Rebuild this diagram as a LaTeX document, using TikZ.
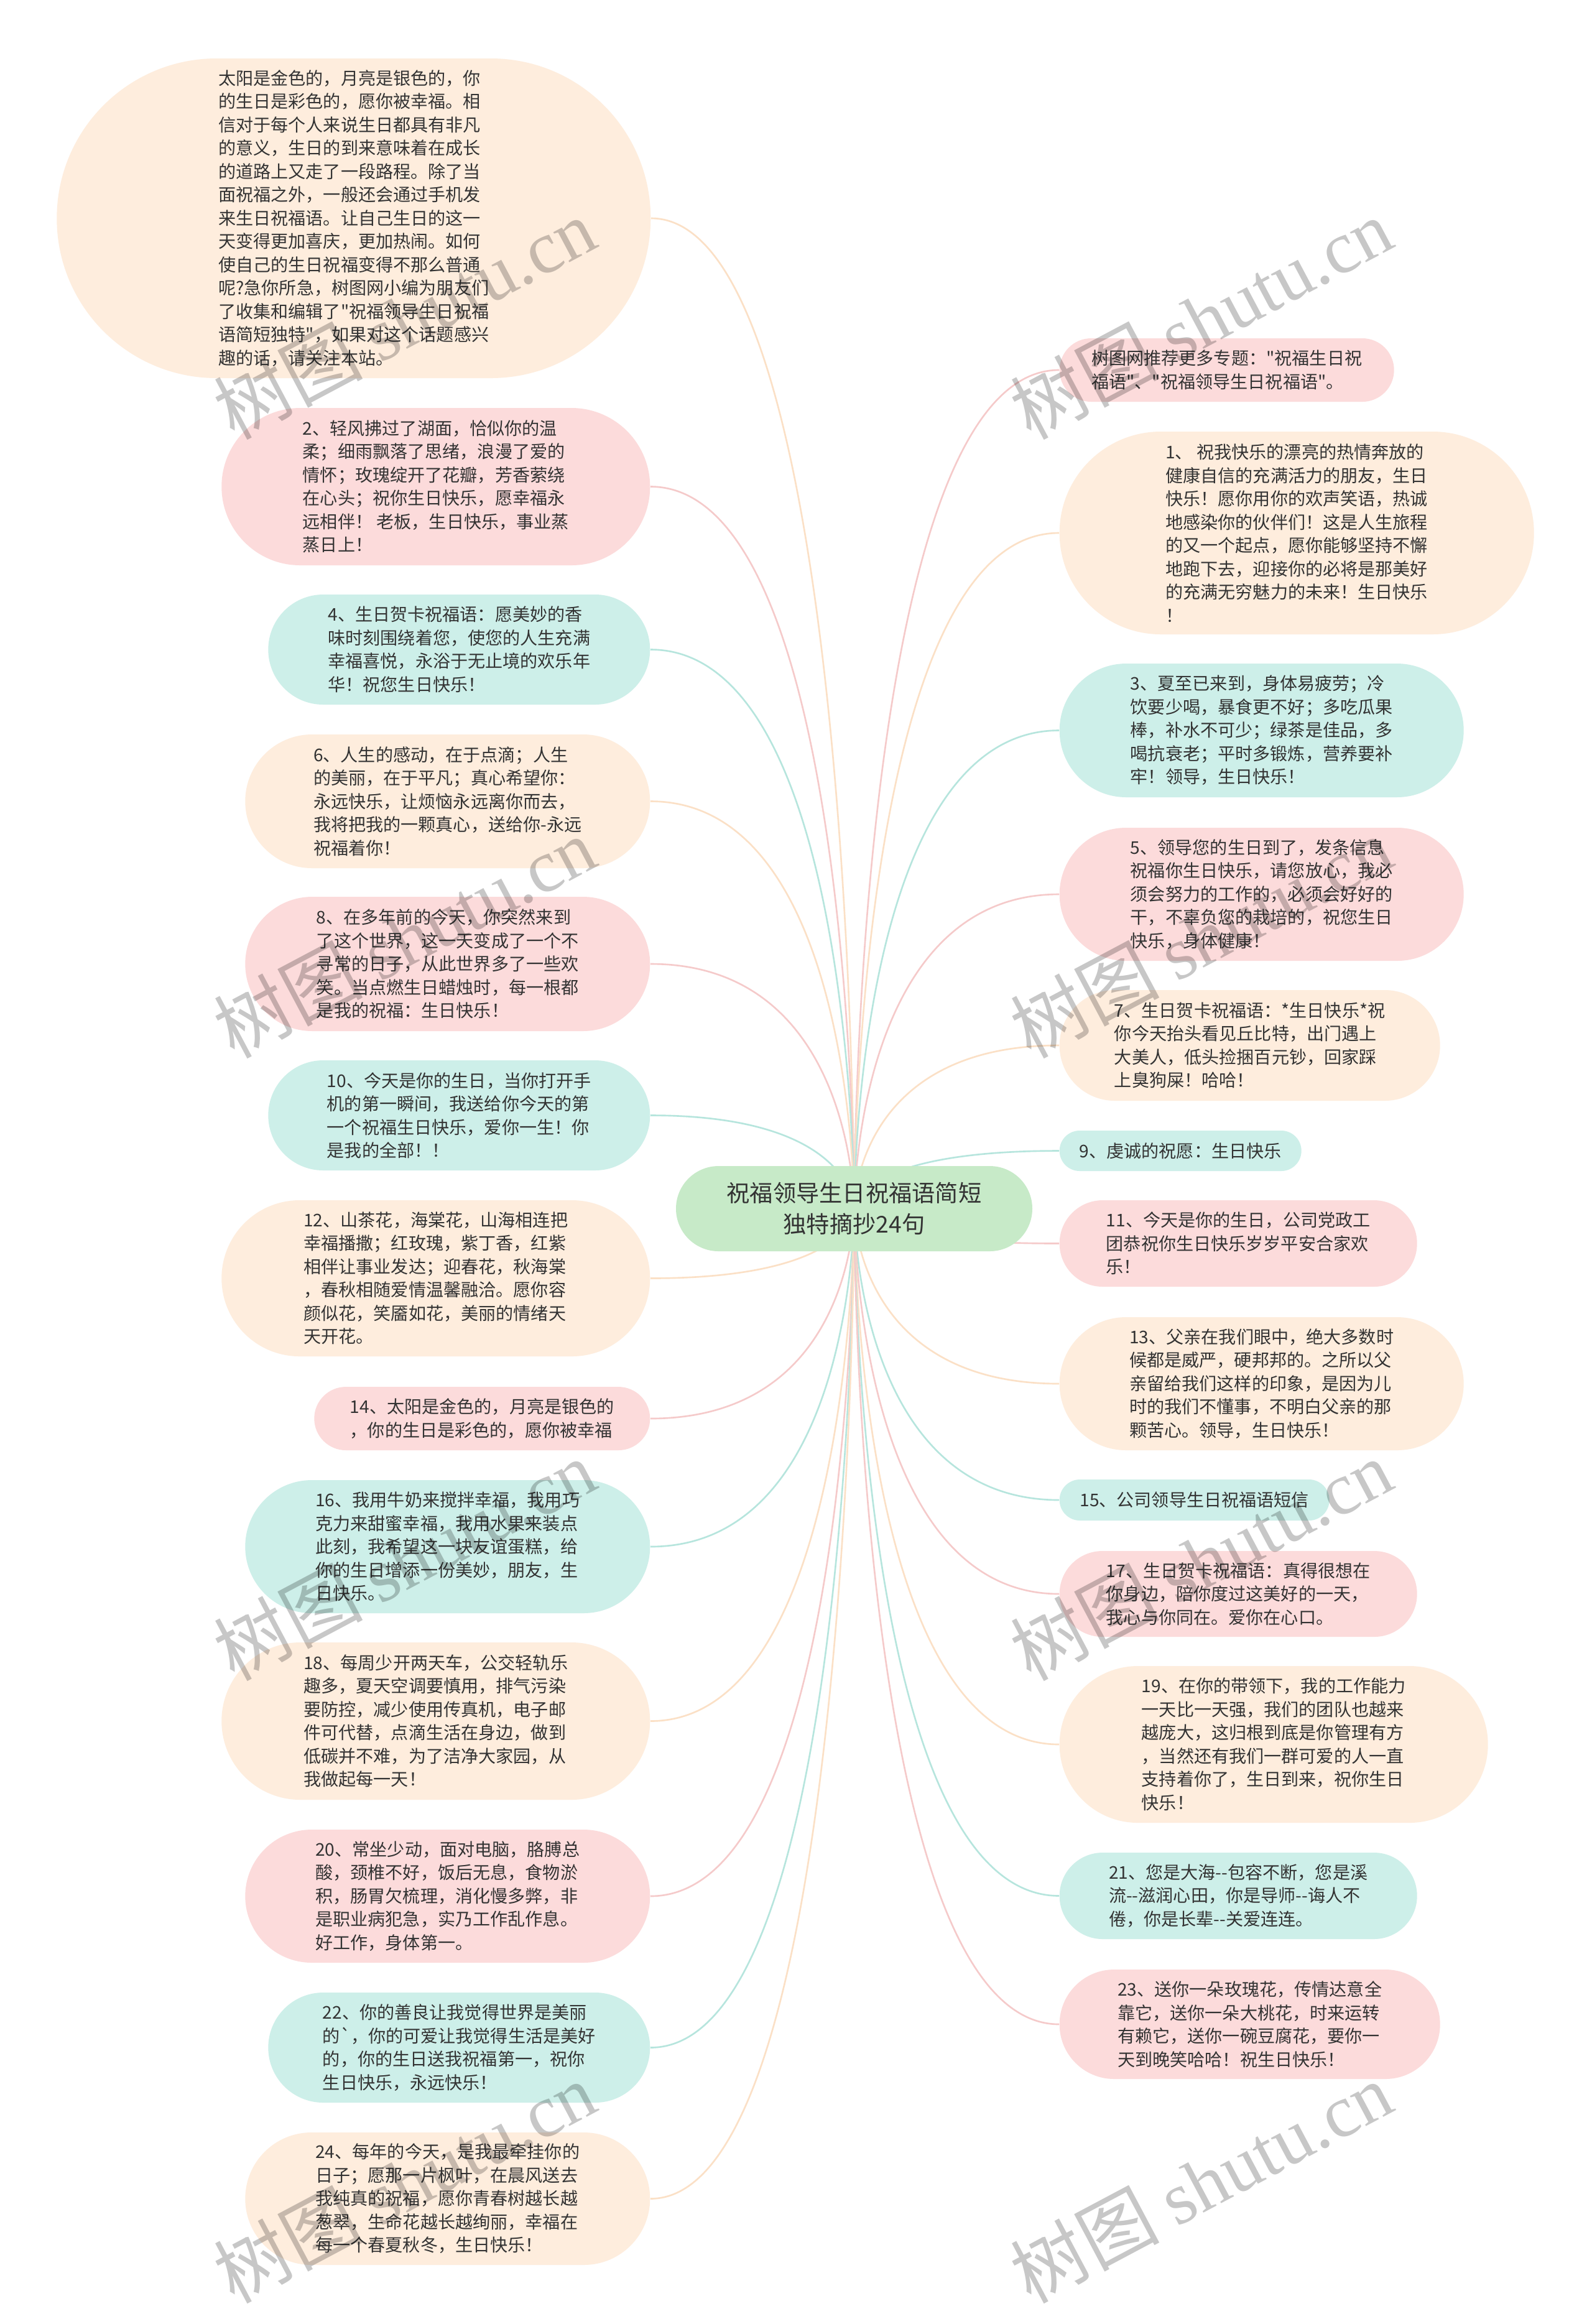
\documentclass[tikz,border=0pt]{standalone}
\usepackage{fontspec}
\setmainfont{Noto Sans CJK SC}
\setmonofont{Noto Sans CJK SC}
\newfontfamily\wmserif{Liberation Serif}
\usetikzlibrary{backgrounds}
\definecolor{pinkfill}{RGB}{252,219,219}
\definecolor{tealfill}{RGB}{205,239,233}
\definecolor{peachfill}{RGB}{254,237,221}
\definecolor{greenfill}{RGB}{199,234,200}
\definecolor{pinkline}{RGB}{245,202,202}
\definecolor{tealline}{RGB}{182,229,221}
\definecolor{peachline}{RGB}{251,224,198}
\definecolor{inkgrey}{RGB}{51,51,51}

\begin{document}
\begin{tikzpicture}[
  font=\ttfamily\fontsize{8pt}{10.67pt}\selectfont,
  bubble/.style 2 args={minimum width=#1cm, minimum height=#2cm, rounded corners=#2cm/2, align=left, inner sep=0pt, text=inkgrey},
  pinkbox/.style={fill=pinkfill},
  tealbox/.style={fill=tealfill},
  peachbox/.style={fill=peachfill},
  lside/.style={anchor=east},
  rside/.style={anchor=west},
  hub/.style={fill=greenfill, minimum width=5.73cm, minimum height=1.37cm, rounded corners=0.685cm, align=center, inner sep=0pt, text=inkgrey, font=\ttfamily\fontsize{10.6pt}{14.2pt}\selectfont},
  link/.style={line width=0.75pt},
  pinklink/.style={link, pinkline},
  teallink/.style={link, tealline},
  peachlink/.style={link, peachline},
  wmark/.style={font=\fontsize{34pt}{34pt}\selectfont, text=black, text opacity=0.22, rotate=28, inner sep=0pt}
]
\useasboundingbox (0,0) rectangle (25.6,-37.37);

% Centre topic
\node[hub] (hub) at (13.735,-19.435) {祝福领导生日祝福语简短\\独特摘抄24句};

% Left branch
\node[bubble={9.55}{5.14}, peachbox, lside] (l0) at (10.47,-3.51) {太阳是金色的，月亮是银色的，你\\的生日是彩色的，愿你被幸福。相\\信对于每个人来说生日都具有非凡\\的意义，生日的到来意味着在成长\\的道路上又走了一段路程。除了当\\面祝福之外，一般还会通过手机发\\来生日祝福语。让自己生日的这一\\天变得更加喜庆，更加热闹。如何\\使自己的生日祝福变得不那么普通\\呢?急你所急，树图网小编为朋友们\\了收集和编辑了"祝福领导生日祝福\\语简短独特"，如果对这个话题感兴\\趣的话，请关注本站。};
\node[bubble={6.89}{2.53}, pinkbox, lside] (l2) at (10.46,-7.825) {2、轻风拂过了湖面，恰似你的温\\柔；细雨飘落了思绪，浪漫了爱的\\情怀；玫瑰绽开了花瓣，芳香萦绕\\在心头；祝你生日快乐，愿幸福永\\远相伴！\ 老板，生日快乐，事业蒸\\蒸日上！};
\node[bubble={6.14}{1.77}, tealbox, lside] (l4) at (10.46,-10.445) {4、生日贺卡祝福语：愿美妙的香\\味时刻围绕着您，使您的人生充满\\幸福喜悦，永浴于无止境的欢乐年\\华！祝您生日快乐！};
\node[bubble={6.51}{2.15}, peachbox, lside] (l6) at (10.46,-12.885) {6、人生的感动，在于点滴；人生\\的美丽，在于平凡；真心希望你：\\永远快乐，让烦恼永远离你而去，\\我将把我的一颗真心，送给你-永远\\祝福着你！};
\node[bubble={6.51}{2.16}, pinkbox, lside] (l8) at (10.46,-15.50) {8、在多年前的今天，你突然来到\\了这个世界，这一天变成了一个不\\寻常的日子，从此世界多了一些欢\\笑。当点燃生日蜡烛时，每一根都\\是我的祝福：生日快乐！};
\node[bubble={6.14}{1.77}, tealbox, lside] (l10) at (10.46,-17.935) {10、今天是你的生日，当你打开手\\机的第一瞬间，我送给你今天的第\\一个祝福生日快乐，爱你一生！你\\是我的全部！！};
\node[bubble={6.89}{2.51}, peachbox, lside] (l12) at (10.46,-20.555) {12、山茶花，海棠花，山海相连把\\幸福播撒；红玫瑰，紫丁香，红紫\\相伴让事业发达；迎春花，秋海棠\\，春秋相随爱情温馨融洽。愿你容\\颜似花，笑靥如花，美丽的情绪天\\天开花。};
\node[bubble={5.40}{1.02}, pinkbox, lside] (l14) at (10.46,-22.81) {14、太阳是金色的，月亮是银色的\\，你的生日是彩色的，愿你被幸福};
\node[bubble={6.51}{2.14}, tealbox, lside] (l16) at (10.46,-24.87) {16、我用牛奶来搅拌幸福，我用巧\\克力来甜蜜幸福，我用水果来装点\\此刻，我希望这一块友谊蛋糕，给\\你的生日增添一份美妙，朋友，生\\日快乐。};
\node[bubble={6.89}{2.53}, peachbox, lside] (l18) at (10.46,-27.675) {18、每周少开两天车，公交轻轨乐\\趣多，夏天空调要慎用，排气污染\\要防控，减少使用传真机，电子邮\\件可代替，点滴生活在身边，做到\\低碳并不难，为了洁净大家园，从\\我做起每一天！};
\node[bubble={6.51}{2.14}, pinkbox, lside] (l20) at (10.46,-30.49) {20、常坐少动，面对电脑，胳膊总\\酸，颈椎不好，饭后无息，食物淤\\积，肠胃欠梳理，消化慢多弊，非\\是职业病犯急，实乃工作乱作息。\\好工作，身体第一。};
\node[bubble={6.14}{1.77}, tealbox, lside] (l22) at (10.46,-32.925) {22、你的善良让我觉得世界是美丽\\的`，你的可爱让我觉得生活是美好\\的，你的生日送我祝福第一，祝你\\生日快乐，永远快乐！};
\node[bubble={6.51}{2.13}, peachbox, lside] (l24) at (10.46,-35.355) {24、每年的今天，是我最牵挂你的\\日子；愿那一片枫叶，在晨风送去\\我纯真的祝福，愿你青春树越长越\\葱翠，生命花越长越绚丽，幸福在\\每一个春夏秋冬，生日快乐！};

% Right branch
\node[bubble={5.38}{1.02}, pinkbox, rside] (r0) at (17.03,-5.95) {树图网推荐更多专题："祝福生日祝\\福语"、"祝福领导生日祝福语"。};
\node[bubble={7.63}{3.26}, peachbox, rside] (r1) at (17.03,-8.57) {1、 祝我快乐的漂亮的热情奔放的\\健康自信的充满活力的朋友，生日\\快乐！愿你用你的欢声笑语，热诚\\地感染你的伙伴们！这是人生旅程\\的又一个起点，愿你能够坚持不懈\\地跑下去，迎接你的必将是那美好\\的充满无穷魅力的未来！生日快乐\\！};
\node[bubble={6.50}{2.15}, tealbox, rside] (r3) at (17.03,-11.745) {3、夏至已来到，身体易疲劳；冷\\饮要少喝，暴食更不好；多吃瓜果\\棒，补水不可少；绿茶是佳品，多\\喝抗衰老；平时多锻炼，营养要补\\牢！领导，生日快乐！};
\node[bubble={6.50}{2.14}, pinkbox, rside] (r5) at (17.03,-14.38) {5、领导您的生日到了，发条信息\\祝福你生日快乐，请您放心，我必\\须会努力的工作的，必须会好好的\\干，不辜负您的栽培的，祝您生日\\快乐，身体健康！};
\node[bubble={6.12}{1.78}, peachbox, rside] (r7) at (17.03,-16.81) {7、生日贺卡祝福语：*生日快乐*祝\\你今天抬头看见丘比特，出门遇上\\大美人，低头捡捆百元钞，回家踩\\上臭狗屎！哈哈！};
\node[bubble={3.89}{0.65}, tealbox, rside] (r9) at (17.03,-18.505) {9、虔诚的祝愿：生日快乐};
\node[bubble={5.75}{1.39}, pinkbox, rside] (r11) at (17.03,-19.995) {11、今天是你的生日，公司党政工\\团恭祝你生日快乐岁岁平安合家欢\\乐！};
\node[bubble={6.50}{2.14}, peachbox, rside] (r13) at (17.03,-22.25) {13、父亲在我们眼中，绝大多数时\\候都是威严，硬邦邦的。之所以父\\亲留给我们这样的印象，是因为儿\\时的我们不懂事，不明白父亲的那\\颗苦心。领导，生日快乐！};
\node[bubble={4.34}{0.66}, tealbox, rside] (r15) at (17.03,-24.12) {15、公司领导生日祝福语短信};
\node[bubble={5.75}{1.38}, pinkbox, rside] (r17) at (17.03,-25.63) {17、生日贺卡祝福语：真得很想在\\你身边，陪你度过这美好的一天，\\我心与你同在。爱你在心口。};
\node[bubble={6.89}{2.52}, peachbox, rside] (r19) at (17.03,-28.05) {19、在你的带领下，我的工作能力\\一天比一天强，我们的团队也越来\\越庞大，这归根到底是你管理有方\\，当然还有我们一群可爱的人一直\\支持着你了，生日到来，祝你生日\\快乐！};
\node[bubble={5.75}{1.39}, tealbox, rside] (r21) at (17.03,-30.485) {21、您是大海--包容不断，您是溪\\流--滋润心田，你是导师--诲人不\\倦，你是长辈--关爱连连。};
\node[bubble={6.12}{1.76}, pinkbox, rside] (r23) at (17.03,-32.55) {23、送你一朵玫瑰花，传情达意全\\靠它，送你一朵大桃花，时来运转\\有赖它，送你一碗豆腐花，要你一\\天到晚笑哈哈！祝生日快乐！};

% Connectors, behind the bubbles
\begin{pgfonlayer}{background}
\fill[white] (0,0) rectangle (25.6,-37.37);
\draw[peachlink] (hub.center) .. controls (hub.center) and (hub.center |- l0.east) .. (l0.east);
\draw[pinklink] (hub.center) .. controls (hub.center) and (hub.center |- l2.east) .. (l2.east);
\draw[teallink] (hub.center) .. controls (hub.center) and (hub.center |- l4.east) .. (l4.east);
\draw[peachlink] (hub.center) .. controls (hub.center) and (hub.center |- l6.east) .. (l6.east);
\draw[pinklink] (hub.center) .. controls (hub.center) and (hub.center |- l8.east) .. (l8.east);
\draw[teallink] (hub.center) .. controls (hub.center) and (hub.center |- l10.east) .. (l10.east);
\draw[peachlink] (hub.center) .. controls (hub.center) and (hub.center |- l12.east) .. (l12.east);
\draw[pinklink] (hub.center) .. controls (hub.center) and (hub.center |- l14.east) .. (l14.east);
\draw[teallink] (hub.center) .. controls (hub.center) and (hub.center |- l16.east) .. (l16.east);
\draw[peachlink] (hub.center) .. controls (hub.center) and (hub.center |- l18.east) .. (l18.east);
\draw[pinklink] (hub.center) .. controls (hub.center) and (hub.center |- l20.east) .. (l20.east);
\draw[teallink] (hub.center) .. controls (hub.center) and (hub.center |- l22.east) .. (l22.east);
\draw[peachlink] (hub.center) .. controls (hub.center) and (hub.center |- l24.east) .. (l24.east);
\draw[pinklink] (hub.center) .. controls (hub.center) and (hub.center |- r0.west) .. (r0.west);
\draw[peachlink] (hub.center) .. controls (hub.center) and (hub.center |- r1.west) .. (r1.west);
\draw[teallink] (hub.center) .. controls (hub.center) and (hub.center |- r3.west) .. (r3.west);
\draw[pinklink] (hub.center) .. controls (hub.center) and (hub.center |- r5.west) .. (r5.west);
\draw[peachlink] (hub.center) .. controls (hub.center) and (hub.center |- r7.west) .. (r7.west);
\draw[teallink] (hub.center) .. controls (hub.center) and (hub.center |- r9.west) .. (r9.west);
\draw[pinklink] (hub.center) .. controls (hub.center) and (hub.center |- r11.west) .. (r11.west);
\draw[peachlink] (hub.center) .. controls (hub.center) and (hub.center |- r13.west) .. (r13.west);
\draw[teallink] (hub.center) .. controls (hub.center) and (hub.center |- r15.west) .. (r15.west);
\draw[pinklink] (hub.center) .. controls (hub.center) and (hub.center |- r17.west) .. (r17.west);
\draw[peachlink] (hub.center) .. controls (hub.center) and (hub.center |- r19.west) .. (r19.west);
\draw[teallink] (hub.center) .. controls (hub.center) and (hub.center |- r21.west) .. (r21.west);
\draw[pinklink] (hub.center) .. controls (hub.center) and (hub.center |- r23.west) .. (r23.west);
\end{pgfonlayer}

% Watermarks
\node[wmark] (w1) at (6.5,-5.12) {\ttfamily 树图 \wmserif shutu.cn};
\node[wmark] (w2) at (19.31,-5.12) {\ttfamily 树图 \wmserif shutu.cn};
\node[wmark] (w3) at (6.5,-15.07) {\ttfamily 树图 \wmserif shutu.cn};
\node[wmark] (w4) at (19.31,-15.07) {\ttfamily 树图 \wmserif shutu.cn};
\node[wmark] (w5) at (6.5,-25.08) {\ttfamily 树图 \wmserif shutu.cn};
\node[wmark] (w6) at (19.31,-25.08) {\ttfamily 树图 \wmserif shutu.cn};
\node[wmark] (w7) at (6.5,-35.09) {\ttfamily 树图 \wmserif shutu.cn};
\node[wmark] (w8) at (19.31,-35.09) {\ttfamily 树图 \wmserif shutu.cn};
\end{tikzpicture}
\end{document}
